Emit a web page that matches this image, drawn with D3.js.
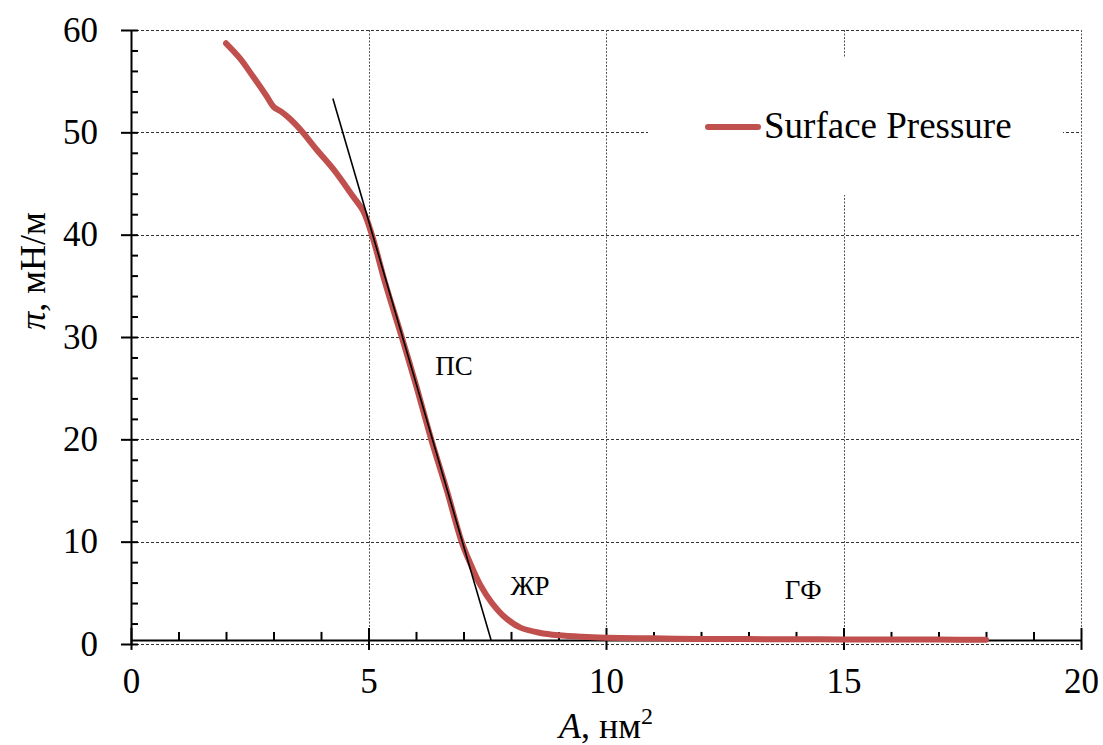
<!DOCTYPE html>
<html>
<head>
<meta charset="utf-8">
<script src="https://d3js.org/d3.v7.min.js"></script>
<style>
   body { margin: 0; background: #fff; }
   text { font-family: "Liberation Serif", "Times New Roman", serif; fill: #000; }
</style>
</head>
<body>
<script>
// isotherm
var area = [2.0, 2.29, 2.57, 2.86, 3.0, 3.17, 3.35, 3.56, 3.91, 4.26, 4.68, 4.89, 5.07, 5.35, 5.7, 6.0, 6.32,
            6.65, 6.96, 7.15, 7.35, 7.6, 7.9, 8.2, 8.6, 9.0, 9.5, 10, 11, 12, 13, 14, 15, 16, 17, 18];
var pressure = [58.7, 57.25, 55.45, 53.5, 52.5, 52.0, 51.3, 50.3, 48.3, 46.4, 43.7, 42.3, 40.0, 35.3, 30.0, 25.3, 20.0,
                15.0, 10.0, 7.8, 5.8, 4.0, 2.5, 1.6, 1.1, 0.85, 0.7, 0.62, 0.55, 0.5, 0.48, 0.46, 0.45, 0.44, 0.43, 0.42];

// tangent to the condensed part
var tangentArea = [4.25, 7.58];
var tangentPressure = [53.3, 0.4];

var xMajor = [0, 5, 10, 15, 20];
var xMinor = [1, 2, 3, 4, 6, 7, 8, 9, 11, 12, 13, 14, 16, 17, 18, 19];
var yMajor = [0, 10, 20, 30, 40, 50, 60];
var yMinor = [2, 4, 6, 8, 12, 14, 16, 18, 22, 24, 26, 28, 32, 34, 36, 38, 42, 44, 46, 48, 52, 54, 56, 58];
var xCross = 0.4; // the horizontal axis crosses here

var phaseLabels = ["ПС", "ЖР", "ГФ"];
var phaseX = [6.8, 8.4, 14.15];
var phaseY = [26.3, 4.8, 4.4];

var seriesName = "Surface Pressure";

function drawIsotherm() {
   var width = 1103;
   var height = 745;
   var margin = {top: 30, right: 22, bottom: 101, left: 131};
   var w = width - margin.left - margin.right;
   var h = height - margin.top - margin.bottom;

   var svg = d3.select("body")
               .append("svg")
                  .attr("width", width)
                  .attr("height", height)
               .append("g")
                  .attr("transform", "translate(" + margin.left + "," + margin.top + ")");

   var x = d3.scaleLinear()
            .domain([0, 20])
            .range([0, w]);

   var y = d3.scaleLinear()
            .domain([0, 60])
            .range([h, 0]);

   //grid
   svg.append("g")
      .selectAll("line")
      .data(yMajor)
      .enter().append("line")
         .attr("x1", 0)
         .attr("x2", w)
         .attr("y1", function(d) { return Math.round(y(d)) + 0.5; })
         .attr("y2", function(d) { return Math.round(y(d)) + 0.5; })
         .style("stroke", "#333")
         .style("stroke-dasharray", "3,2");

   svg.append("g")
      .selectAll("line")
      .data(xMajor.slice(1))
      .enter().append("line")
         .attr("x1", function(d) { return Math.round(x(d)) + 0.5; })
         .attr("x2", function(d) { return Math.round(x(d)) + 0.5; })
         .attr("y1", 0)
         .attr("y2", h)
         .style("stroke", "#555")
         .style("stroke-dasharray", "2,1.5");

   //legend box hides the grid behind it
   var legend = svg.append("g")
      .attr("transform", "translate(" + (648 - margin.left) + "," + (58 - margin.top) + ")");

   legend.append("rect")
      .attr("width", 415)
      .attr("height", 137)
      .style("fill", "#fff");

   legend.append("line")
      .attr("x1", 60)
      .attr("x2", 110)
      .attr("y1", 69)
      .attr("y2", 69)
      .style("stroke", "#C0504D")
      .style("stroke-width", 6)
      .style("stroke-linecap", "round");

   legend.append("text")
      .attr("x", 116)
      .attr("y", 80)
      .style("font-size", "37px")
      .text(seriesName);

   //y axis
   var yAxis = d3.axisLeft(y)
      .tickValues(yMajor)
      .tickSize(10)
      .tickSizeOuter(0);

   var yg = svg.append("g")
      .attr("class", "y axis")
      .call(yAxis);
   yg.select(".domain").style("stroke-width", 2);
   yg.selectAll(".tick line")
      .attr("x1", 7)
      .style("stroke-width", 2);
   yg.selectAll(".tick text")
      .attr("x", -33)
      .style("font-size", "35px")
      .style("font-family", "Liberation Serif");

   svg.append("g")
      .call(d3.axisLeft(y).tickValues(yMinor).tickSize(-7).tickFormat(""))
      .call(function(g) { g.select(".domain").remove(); })
      .selectAll(".tick line")
         .style("stroke-width", 2);

   //x axis, sitting a bit above zero
   var xAxis = d3.axisBottom(x)
      .tickValues(xMajor)
      .tickSize(10)
      .tickSizeOuter(0);

   var xg = svg.append("g")
      .attr("class", "x axis")
      .attr("transform", "translate(0," + y(xCross) + ")")
      .call(xAxis);
   xg.select(".domain").style("stroke-width", 2);
   xg.selectAll(".tick line")
      .attr("y1", -12)
      .style("stroke-width", 2);
   xg.selectAll(".tick text")
      .attr("y", 53)
      .attr("dy", 0)
      .style("font-size", "35px")
      .style("font-family", "Liberation Serif");

   svg.append("g")
      .attr("transform", "translate(0," + y(xCross) + ")")
      .call(d3.axisBottom(x).tickValues(xMinor).tickSize(-8).tickFormat(""))
      .call(function(g) { g.select(".domain").remove(); })
      .selectAll(".tick line")
         .style("stroke-width", 2);

   //the isotherm
   var data = area.map(function(a, i) { return {a: a, p: pressure[i]}; });

   var line = d3.line()
      .x(function(d) { return x(d.a); })
      .y(function(d) { return y(d.p); })
      .curve(d3.curveCatmullRom.alpha(0.5));

   svg.append("path")
      .datum(data)
      .attr("d", line)
      .style("fill", "none")
      .style("stroke", "#C0504D")
      .style("stroke-width", 6)
      .style("stroke-linecap", "round")
      .style("stroke-linejoin", "round");

   svg.append("line")
      .attr("x1", x(tangentArea[0]))
      .attr("y1", y(tangentPressure[0]))
      .attr("x2", x(tangentArea[1]))
      .attr("y2", y(tangentPressure[1]))
      .style("stroke", "#000")
      .style("stroke-width", 1.6);

   svg.selectAll(".phase")
      .data(phaseLabels)
      .enter().append("text")
         .attr("class", "phase")
         .attr("x", function(d, i) { return x(phaseX[i]); })
         .attr("y", function(d, i) { return y(phaseY[i]); })
         .attr("text-anchor", "middle")
         .style("font-size", "27px")
         .text(function(d) { return d; });

   //axis titles
   var xt = svg.append("text")
      .attr("x", w / 2)
      .attr("y", 738 - margin.top)
      .attr("text-anchor", "middle")
      .style("font-size", "36px");
   xt.append("tspan").style("font-style", "italic").text("A");
   xt.append("tspan").text(", нм");
   xt.append("tspan").attr("dy", -14).style("font-size", "24px").text("2");

   var yt = svg.append("text")
      .attr("transform", "translate(" + (45 - margin.left) + "," + (271 - margin.top) + ") rotate(-90)")
      .attr("text-anchor", "middle")
      .style("font-size", "36px");
   yt.append("tspan").style("font-style", "italic").text("π");
   yt.append("tspan").text(", мН/м");
}

drawIsotherm();
</script>
</body>
</html>
